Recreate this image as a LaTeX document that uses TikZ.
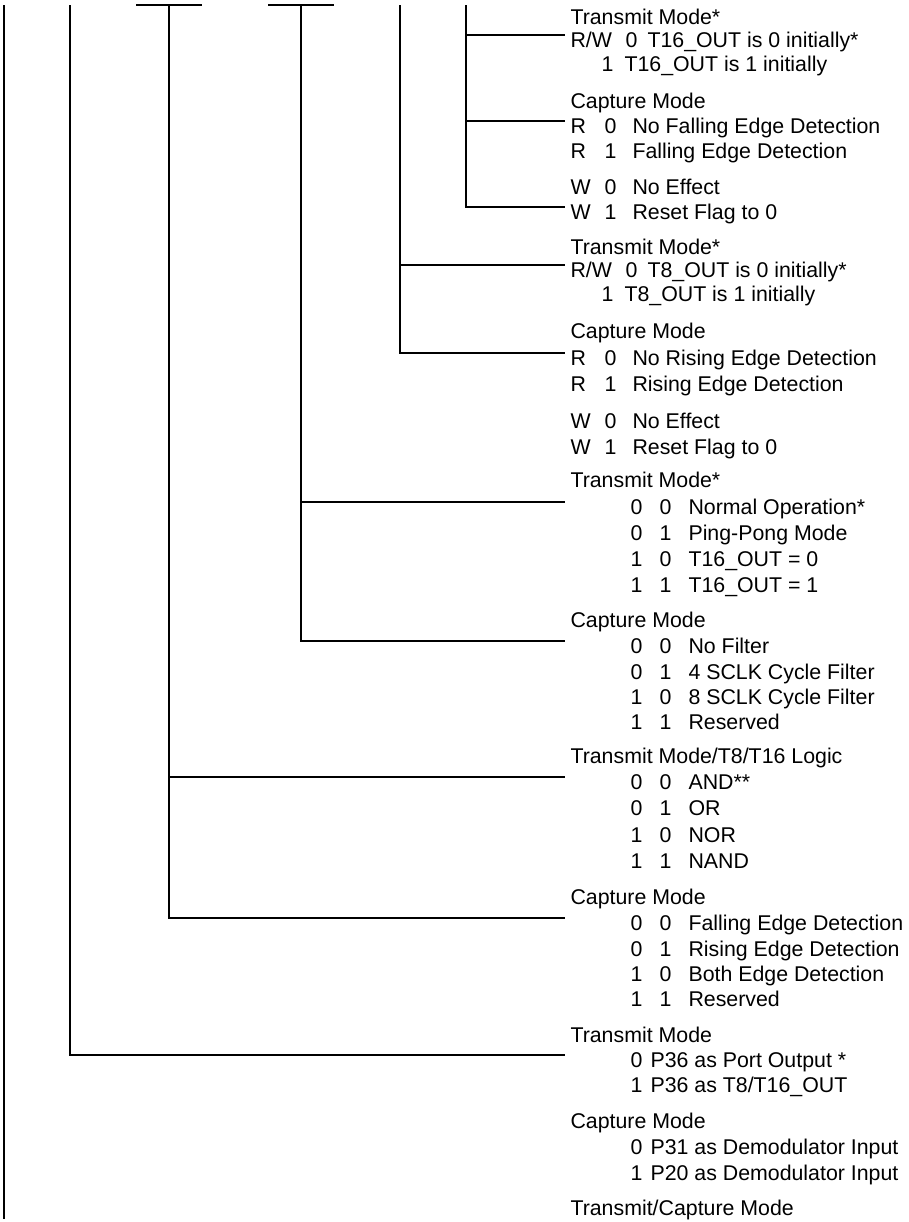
\documentclass[tikz,border=0pt]{standalone}
\usepackage{fontspec}
\setmainfont{Liberation Sans}
\usetikzlibrary{calc}
\newcommand{\rwrow}[3]{\makebox[41.25pt][l]{#1}\makebox[16.5pt][l]{#2}#3}
\newcommand{\onerw}[2]{\hspace*{23.25pt}\makebox[17.25pt][l]{#1}#2}
\newcommand{\rrow}[3]{\makebox[25.5pt][l]{#1}\makebox[21pt][l]{#2}#3}
\newcommand{\bitrow}[3]{\hspace*{45pt}\makebox[21.75pt][l]{#1}\makebox[21.75pt][l]{#2}#3}
\newcommand{\onerow}[2]{\hspace*{45pt}\makebox[15pt][l]{#1}#2}
\begin{document}
\begin{tikzpicture}[x=0.75pt,y=-0.75pt,line width=0.8pt,txt/.style={anchor=base west,inner sep=0pt,font=\fontsize{16}{19}\selectfont}]
\useasboundingbox (0,0) rectangle (908,1222);
% bit lines (top ends)
\coordinate (b7) at (4,5);
\coordinate (b6) at (70,5);
\coordinate (b54) at (169,5);
\coordinate (b32) at (301,5);
\coordinate (b1) at (400,5);
\coordinate (b0) at (466,5);
\coordinate (b7end) at (4,1219);
% bit 0
\node[txt] (t1) at (570,24.5) {Transmit Mode*};
\node[txt] (t2) at (570,47.5) {\rwrow{R/W}{0}{T16\_OUT is 0 initially*}};
\node[txt] (t3) at (570,71.5) {\onerw{1}{T16\_OUT is 1 initially}};
\node[txt] (t4) at (570,108.5) {Capture Mode};
\node[txt] (t5) at (570,133.5) {\rrow{R}{0}{No Falling Edge Detection}};
\node[txt] (t6) at (570,158.5) {\rrow{R}{1}{Falling Edge Detection}};
\node[txt] (t7) at (570,194.5) {\rrow{W}{0}{No Effect}};
\node[txt] (t8) at (570,219.5) {\rrow{W}{1}{Reset Flag to 0}};
% bit 1
\node[txt] (t9) at (570,254.5) {Transmit Mode*};
\node[txt] (t10) at (570,277.5) {\rwrow{R/W}{0}{T8\_OUT is 0 initially*}};
\node[txt] (t11) at (570,301.5) {\onerw{1}{T8\_OUT is 1 initially}};
\node[txt] (t12) at (570,338.5) {Capture Mode};
\node[txt] (t13) at (570,365.5) {\rrow{R}{0}{No Rising Edge Detection}};
\node[txt] (t14) at (570,391.5) {\rrow{R}{1}{Rising Edge Detection}};
\node[txt] (t15) at (570,428.5) {\rrow{W}{0}{No Effect}};
\node[txt] (t16) at (570,454.5) {\rrow{W}{1}{Reset Flag to 0}};
% bits 3-2
\node[txt] (t17) at (570,487.5) {Transmit Mode*};
\node[txt] (t18) at (570,514.5) {\bitrow{0}{0}{Normal Operation*}};
\node[txt] (t19) at (570,540.5) {\bitrow{0}{1}{Ping-Pong Mode}};
\node[txt] (t20) at (570,566.5) {\bitrow{1}{0}{T16\_OUT = 0}};
\node[txt] (t21) at (570,592.5) {\bitrow{1}{1}{T16\_OUT = 1}};
\node[txt] (t22) at (570,627.5) {Capture Mode};
\node[txt] (t23) at (570,653.5) {\bitrow{0}{0}{No Filter}};
\node[txt] (t24) at (570,679.5) {\bitrow{0}{1}{4 SCLK Cycle Filter}};
\node[txt] (t25) at (570,704.5) {\bitrow{1}{0}{8 SCLK Cycle Filter}};
\node[txt] (t26) at (570,729.5) {\bitrow{1}{1}{Reserved}};
% bits 5-4
\node[txt] (t27) at (570,763.5) {Transmit Mode/T8/T16 Logic};
\node[txt] (t28) at (570,789.5) {\bitrow{0}{0}{AND**}};
\node[txt] (t29) at (570,815.5) {\bitrow{0}{1}{OR}};
\node[txt] (t30) at (570,842.5) {\bitrow{1}{0}{NOR}};
\node[txt] (t31) at (570,868.5) {\bitrow{1}{1}{NAND}};
\node[txt] (t32) at (570,904.5) {Capture Mode};
\node[txt] (t33) at (570,930.5) {\bitrow{0}{0}{Falling Edge Detection}};
\node[txt] (t34) at (570,956.5) {\bitrow{0}{1}{Rising Edge Detection}};
\node[txt] (t35) at (570,981.5) {\bitrow{1}{0}{Both Edge Detection}};
\node[txt] (t36) at (570,1006.5) {\bitrow{1}{1}{Reserved}};
% bit 6
\node[txt] (t37) at (570,1042.5) {Transmit Mode};
\node[txt] (t38) at (570,1067.5) {\onerow{0}{P36 as Port Output *}};
\node[txt] (t39) at (570,1092.5) {\onerow{1}{P36 as T8/T16\_OUT}};
\node[txt] (t40) at (570,1128.5) {Capture Mode};
\node[txt] (t41) at (570,1154.5) {\onerow{0}{P31 as Demodulator Input}};
\node[txt] (t42) at (570,1180.5) {\onerow{1}{P20 as Demodulator Input}};
% bit 7
\node[txt] (t43) at (570,1215.5) {Transmit/Capture Mode};
% field bars
\draw ($(b54)+(-33,0)$) -- ($(b54)+(33,0)$);
\draw ($(b32)+(-33,0)$) -- ($(b32)+(33,0)$);
\draw (b7) -- (b7end);
\foreach \b/\t in {b0/t2,b0/t5,b0/t8,b1/t10,b1/t13,b32/t18,b32/t23,b54/t28,b54/t33,b6/t38}
  \draw (\b) |- ($(\t.base west)+(-5,-12.5)$);
\end{tikzpicture}
\end{document}
